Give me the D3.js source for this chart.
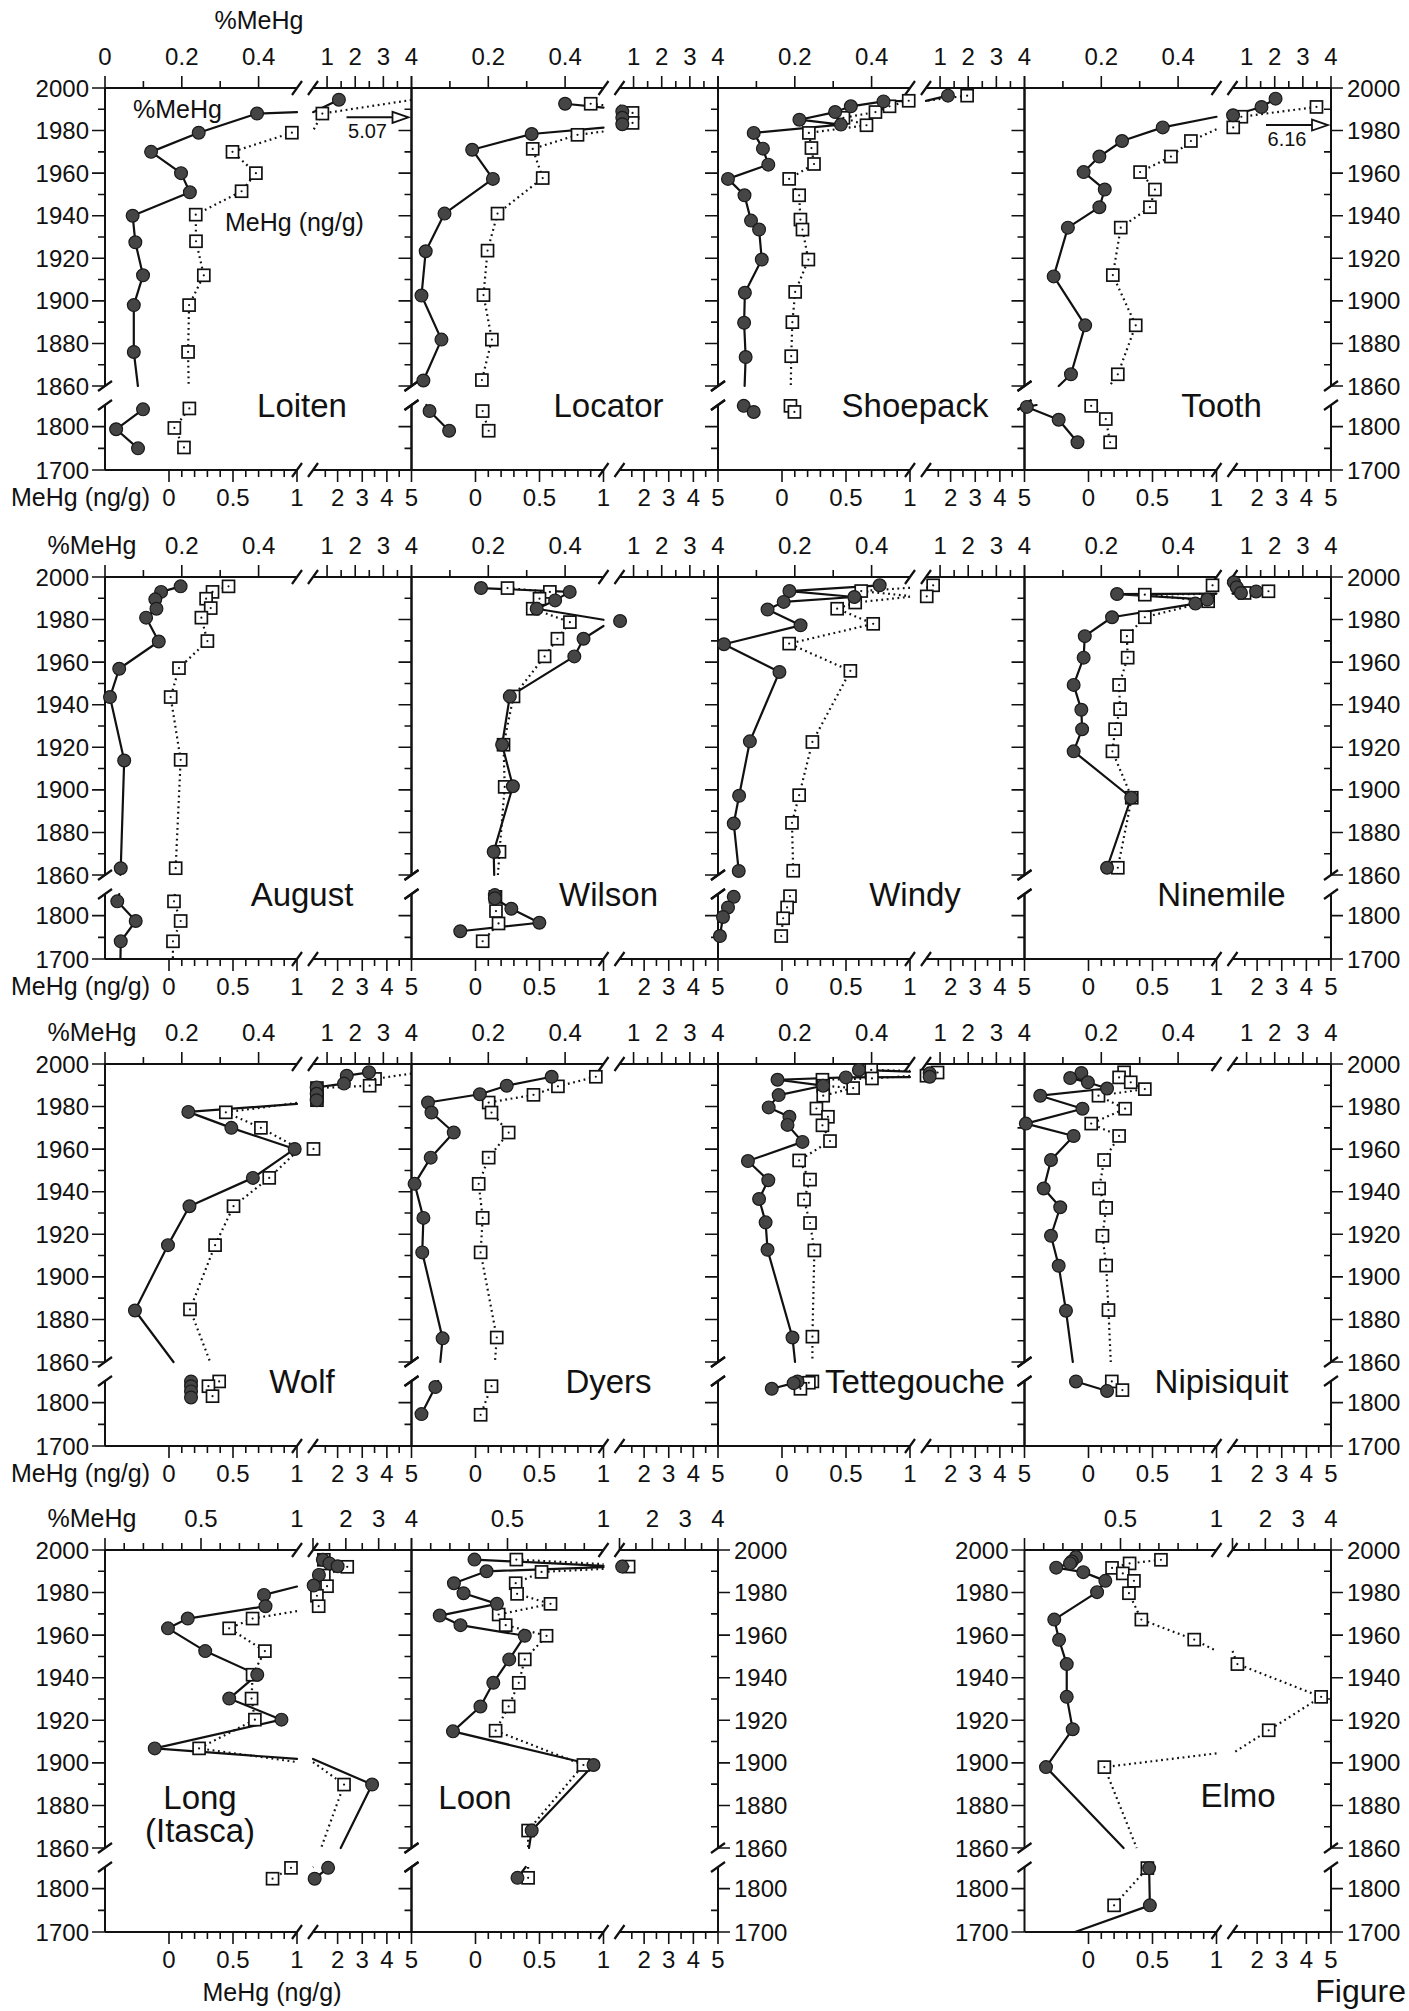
<!DOCTYPE html>
<html>
<head>
<meta charset="utf-8">
<script src="https://cdn.jsdelivr.net/npm/d3@7"></script>
<style>
  body { margin: 0; background: #fff; }
  svg { display: block; }
  text { font-family: "Liberation Sans", Arial, Helvetica, sans-serif; fill: #111; }
</style>
</head>
<body>
<svg id="fig" width="1409" height="2011"></svg>
<script>
// Sediment-core profiles: [year, value]. "Pct" = %MeHg (top axis), "Ng" = MeHg ng/g (bottom axis).
const loitenPct = [[1994.5,1.42],[1988,0.396],[1979,0.244],[1970,0.12],[1960,0.198],[1951,0.221],[1940,0.072],[1927.5,0.079],[1912,0.099],[1898,0.075],[1876,0.075],[1840,0.099],[1794,0.029],[1750,0.086]];
const loitenNg = [[1994.5,5.07],[1988,1.38],[1979,0.96],[1970,0.496],[1960,0.679],[1951.5,0.567],[1940.5,0.209],[1928,0.211],[1912,0.272],[1898,0.157],[1876,0.149],[1842,0.159],[1797,0.042],[1752,0.117]];

const locatorPct = [[1992.6,0.40],[1989,0.6],[1986,0.6],[1983,0.6],[1978.4,0.313],[1971,0.158],[1957.3,0.212],[1941,0.086],[1923.3,0.037],[1902.5,0.026],[1881.8,0.078],[1862.6,0.031],[1836,0.047],[1790.6,0.098]];
const locatorNg = [[1992.6,0.9],[1988.3,1.53],[1983.6,1.53],[1978,0.797],[1971.4,0.447],[1957.7,0.525],[1941,0.172],[1923.6,0.094],[1902.7,0.0625],[1881.8,0.128],[1862.8,0.05],[1836,0.056],[1790.6,0.103]];

const shoepackPct = [[1996.4,1.28],[1993.7,0.431],[1991.4,0.346],[1988.7,0.305],[1985.1,0.212],[1982.8,0.32],[1978.9,0.093],[1971.5,0.117],[1964,0.131],[1957.3,0.026],[1949.6,0.069],[1937.7,0.086],[1933.5,0.107],[1919.4,0.114],[1903.8,0.07],[1889.7,0.068],[1873.6,0.072],[1848,0.067],[1834,0.093]];
const shoepackNg = [[1996.4,2.67],[1994,0.99],[1991.4,0.84],[1988.7,0.73],[1986,0.48],[1982.5,0.66],[1978.9,0.21],[1971.8,0.23],[1964.3,0.25],[1957.3,0.056],[1949.6,0.134],[1938.2,0.144],[1933.5,0.16],[1919.4,0.206],[1904.2,0.103],[1890,0.081],[1874,0.072],[1848,0.066],[1834,0.097]];

const toothPct = [[1995,2.03],[1991.1,1.53],[1987.2,0.52],[1981.5,0.36],[1975.1,0.254],[1967.8,0.195],[1960.5,0.154],[1952.3,0.209],[1944,0.195],[1934.4,0.113],[1911.5,0.076],[1888.5,0.158],[1865.5,0.121],[1845.6,0.006],[1816,0.089],[1764,0.138]];
const toothNg = [[1991.1,4.41],[1986.5,1.36],[1981.5,1.03],[1975.1,0.8],[1967.8,0.644],[1960.5,0.403],[1952.3,0.519],[1944,0.48],[1934.4,0.252],[1912.1,0.19],[1888.5,0.369],[1865.5,0.229],[1848,0.021],[1817.6,0.135],[1764,0.169]];

const augustPct = [[1995.6,0.197],[1993,0.146],[1989.5,0.131],[1985.1,0.134],[1980.9,0.107],[1969.7,0.14],[1956.9,0.037],[1943.6,0.013],[1913.8,0.05],[1863.2,0.041],[1833,0.032],[1787.7,0.08],[1740.8,0.041],[1690,0.04]];
const augustNg = [[1995.6,0.465],[1993,0.34],[1989.8,0.29],[1985.4,0.326],[1980.9,0.253],[1969.9,0.3],[1957.2,0.078],[1943.6,0.013],[1914.1,0.091],[1863.2,0.052],[1833,0.039],[1787.7,0.091],[1740.8,0.031],[1690,0.03]];

const wilsonPct = [[1994.8,0.181],[1993,0.412],[1989,0.374],[1985.1,0.326],[1979.3,0.52],[1971,0.448],[1962.7,0.424],[1943.9,0.256],[1921.2,0.236],[1901.7,0.264],[1870.9,0.214],[1847.5,0.217],[1840,0.217],[1816,0.26],[1783.6,0.333],[1764,0.127]];
const wilsonNg = [[1994.8,0.25],[1993,0.581],[1989.8,0.5],[1985.1,0.447],[1978.8,0.7375],[1971,0.64],[1962.7,0.54],[1943.9,0.297],[1921.2,0.219],[1901.4,0.228],[1870.9,0.1875],[1843.4,0.156],[1810.6,0.16],[1782,0.18],[1741,0.056]];

const windyPct = [[1996.1,0.421],[1993.4,0.186],[1990.6,0.355],[1988.3,0.171],[1984.7,0.129],[1977.3,0.215],[1968.4,0.0155],[1955.4,0.16],[1922.8,0.083],[1897.2,0.055],[1884.2,0.041],[1861.9,0.054],[1843.4,0.041],[1819,0.026],[1797,0.013],[1753,0.005]];
const windyNg = [[1996.1,1.29],[1993.4,0.619],[1990.9,1.03],[1988,0.572],[1985.1,0.431],[1978,0.7125],[1968.7,0.056],[1955.9,0.534],[1922.5,0.2375],[1897.5,0.134],[1884.5,0.078],[1862,0.0875],[1845,0.0625],[1819,0.04],[1794,0.009],[1753,-0.006]];

const ninemilePct = [[1997.5,0.55],[1995.2,0.65],[1993.2,1.34],[1992.5,0.8],[1992,0.241],[1989.4,0.476],[1987.5,0.445],[1981.1,0.228],[1972.2,0.157],[1962.1,0.154],[1949.3,0.128],[1937.6,0.148],[1928.5,0.15],[1918.1,0.128],[1896.3,0.278],[1863.4,0.215]];
const ninemileNg = [[1996.1,0.969],[1993.3,2.46],[1992.5,1.49],[1991.7,0.44],[1988.6,0.935],[1981.1,0.44],[1972.2,0.3],[1962.1,0.306],[1949.3,0.239],[1937.9,0.247],[1928.5,0.208],[1918.1,0.187],[1896.3,0.338],[1863.4,0.229]];

const wolfPct = [[1996.1,2.49],[1994.5,1.7],[1990.8,1.6],[1989,0.63],[1986,0.63],[1983,0.63],[1977.5,0.217],[1970,0.329],[1960.1,0.494],[1946.5,0.385],[1933.2,0.22],[1914.9,0.164],[1884.2,0.078],[1849,0.224],[1838,0.224],[1826,0.224],[1812,0.224]];
const wolfNg = [[1996.5,5.6],[1993,3.52],[1989.8,3.3],[1988.7,1.16],[1985,1.16],[1983,1.16],[1977.3,0.444],[1970,0.718],[1960.1,1.02],[1946.5,0.783],[1933.2,0.504],[1914.9,0.36],[1884.7,0.164],[1849,0.392],[1838,0.308],[1815,0.34]];

const dyersPct = [[1994,0.365],[1989.8,0.248],[1985.8,0.178],[1981.9,0.043],[1977.2,0.052],[1967.8,0.11],[1956,0.05],[1943.7,0.008],[1927.7,0.031],[1911.5,0.028],[1871.1,0.081],[1836,0.062],[1773.6,0.026]];
const dyersNg = [[1994,0.94],[1989.5,0.644],[1985.5,0.453],[1981.9,0.103],[1977.2,0.125],[1967.8,0.259],[1956,0.103],[1943.7,0.025],[1927.7,0.056],[1911.5,0.04],[1871.5,0.166],[1838,0.125],[1772,0.04]];

const tettegouchePct = [[1997.2,0.367],[1995.6,0.63],[1994,0.63],[1993.7,0.333],[1992.6,0.155],[1989.8,0.274],[1985.4,0.158],[1979.6,0.132],[1975.2,0.186],[1971.4,0.181],[1963.4,0.22],[1954.4,0.078],[1945.4,0.131],[1936.6,0.107],[1925.6,0.124],[1912.7,0.129],[1871.5,0.194],[1849,0.207],[1845,0.197],[1832,0.14]];
const tettegoucheNg = [[1997.2,0.697],[1996,1.47],[1994.5,1.02],[1993.2,0.703],[1992.6,0.316],[1989.8,0.322],[1988.7,0.556],[1985.1,0.322],[1979.1,0.269],[1975.2,0.359],[1971.2,0.316],[1963.8,0.375],[1954.7,0.134],[1945.7,0.219],[1936.3,0.172],[1925.3,0.219],[1912.4,0.253],[1871.9,0.2375],[1849,0.2375],[1846,0.21],[1832,0.144]];

const nipisiquitPct = [[1995.8,0.148],[1993.4,0.119],[1991.4,0.165],[1988.5,0.215],[1985.1,0.041],[1979,0.151],[1972,0.0035],[1966.2,0.128],[1954.9,0.069],[1941.5,0.05],[1932.7,0.093],[1919.3,0.069],[1905.2,0.089],[1884.1,0.108],[1849,0.134],[1827,0.215]];
const nipisiquitNg = [[1996.1,0.278],[1993.7,0.239],[1991.4,0.33],[1988.2,0.44],[1985.1,0.078],[1979,0.286],[1972,0.021],[1966.2,0.239],[1954.9,0.122],[1941.5,0.083],[1932.4,0.138],[1919.3,0.109],[1905.3,0.138],[1884.4,0.156],[1849,0.182],[1829,0.265]];

const longPct = [[1995.4,1.3],[1993.7,1.5],[1992.4,1.75],[1988.3,1.18],[1983.3,1.02],[1978.9,0.828],[1973.6,0.836],[1967.8,0.431],[1963.2,0.328],[1952.5,0.522],[1941.4,0.793],[1930.2,0.647],[1920.3,0.919],[1906.8,0.259],[1889.8,2.8],[1848,1.46],[1823,1.05]];
const longNg = [[1995.4,1.44],[1992.1,2.39],[1988,1.44],[1983,1.57],[1978.5,1.16],[1973.6,1.23],[1967.8,0.653],[1963.2,0.47],[1952.5,0.749],[1941.4,0.653],[1930.2,0.645],[1920.3,0.671],[1906.8,0.235],[1889.8,2.26],[1848,0.953],[1823,0.809]];

const loonPct = [[1995.5,0.328],[1992.2,1.08],[1990,0.391],[1984.4,0.221],[1979.7,0.271],[1974.7,0.445],[1969.2,0.147],[1964.7,0.255],[1959.7,0.59],[1948.6,0.509],[1937.6,0.426],[1926.5,0.359],[1914.8,0.216],[1899,0.948],[1868.2,0.626],[1825,0.552]];
const loonNg = [[1995.5,0.319],[1992.2,1.37],[1989.7,0.516],[1984.4,0.314],[1979.4,0.325],[1974.7,0.586],[1969.7,0.181],[1964.7,0.236],[1959.7,0.555],[1948.6,0.385],[1937.6,0.338],[1926.5,0.259],[1915.1,0.157],[1899,0.843],[1868.2,0.411],[1825,0.411]];

const elmoPct = [[1996.7,0.268],[1994.6,0.246],[1993.7,0.237],[1991.7,0.165],[1989.6,0.306],[1985.5,0.421],[1980.2,0.378],[1967.3,0.155],[1957.8,0.18],[1946.4,0.22],[1931,0.22],[1915.8,0.251],[1898,0.112],[1847.5,0.649],[1761.5,0.653],[1690,0.2]];
const elmoNg = [[1995.4,0.566],[1993.7,0.321],[1991.6,0.184],[1989,0.268],[1985.5,0.355],[1979.7,0.316],[1967.3,0.413],[1957.9,0.826],[1946.4,1.2],[1931,4.6],[1915.3,2.47],[1898,0.124],[1847.5,0.46],[1761.5,0.2]];

// Lake names and their profile pairs, in reading order.
const lakeNames = ["Loiten","Locator","Shoepack","Tooth","August","Wilson","Windy","Ninemile",
                   "Wolf","Dyers","Tettegouche","Nipisiquit","Long (Itasca)","Loon","Elmo"];
const lakeProfiles = [[loitenPct,loitenNg],[locatorPct,locatorNg],[shoepackPct,shoepackNg],[toothPct,toothNg],
  [augustPct,augustNg],[wilsonPct,wilsonNg],[windyPct,windyNg],[ninemilePct,ninemileNg],
  [wolfPct,wolfNg],[dyersPct,dyersNg],[tettegouchePct,tettegoucheNg],[nipisiquitPct,nipisiquitNg],
  [longPct,longNg],[loonPct,loonNg],[elmoPct,elmoNg]];

// Values beyond the MeHg axis, flagged with an arrow.
const offscaleLakes = ["Loiten","Tooth"];
const offscaleYears = [1986.2, 1982.6];
const offscaleValues = [5.07, 6.16];

// Axis ticks and labels.
const yearMajorUpper = [2000,1980,1960,1940,1920,1900,1880,1860];
const yearMinorUpper = [1990,1970,1950,1930,1910,1890,1870];
const yearMajorLower = [1800,1700];
const yearMinorLower = [1750];
const pctLabels = [0.2,0.4,1,2,3,4];
const pctLabelsWide = [0.5,1,2,3,4];
const ngLabels = [0,0.5,1,2,3,4,5];

// ---------- layout ----------
const W = 306.5, H = 382, SL = 192, SR = 208;
const colX = [105, 411.5, 718, 1024.5];
const rowY = [88, 577, 1064, 1550];
const slots = [[0,0],[0,1],[0,2],[0,3],[1,0],[1,1],[1,2],[1,3],[2,0],[2,1],[2,2],[2,3],[3,0],[3,1],[3,3]];
const namePos = [null,null,null,null,null,null,null,null,null,null,null,null,[95,259],[63.5,259],[213.5,257]];

const svg = d3.select("#fig");
const yUp = d3.scaleLinear().domain([1860, 2000]).range([298, 0]);
const yLo = d3.scaleLinear().domain([1700, 1850]).range([H, 317]);

function xScales(kind, wide) {
  if (kind === "pct") {
    const s = wide ? 1 : 0.5;
    return { split: s,
      left: d3.scaleLinear().domain([0, s]).range([0, SL]),
      right: d3.scaleLinear().domain([s, 4]).range([SR, W]) };
  }
  return { split: 1,
    left: d3.scaleLinear().domain([-0.5, 1]).range([0, SL]),
    right: d3.scaleLinear().domain([1, 5]).range([SR, W]) };
}

// Liang-Barsky clip of a data-space segment to a rectangular data region.
function clip(p, q, x0, x1, y0, y1) {
  let t0 = 0, t1 = 1;
  const dx = q[1] - p[1], dy = q[0] - p[0];
  const c = [[-dx, p[1] - x0], [dx, x1 - p[1]], [-dy, p[0] - y0], [dy, y1 - p[0]]];
  for (const [pp, qq] of c) {
    if (pp === 0) { if (qq < 0) return null; continue; }
    const r = qq / pp;
    if (pp < 0) { if (r > t1) return null; if (r > t0) t0 = r; }
    else { if (r < t0) return null; if (r < t1) t1 = r; }
  }
  return t0 < t1 ? [t0, t1] : null;
}

function profilePath(data, xs) {
  let d = "", last = null;
  for (let i = 0; i < data.length - 1; i++) {
    const p = data[i], q = data[i + 1];
    for (const sy of [yUp, yLo]) for (const sx of [xs.left, xs.right]) {
      const [xa, xb] = sx.domain(), [ya, yb] = sy.domain();
      const t = clip(p, q, xa, xb, ya, yb);
      if (!t) continue;
      const at = k => [p[0] + (q[0] - p[0]) * k, p[1] + (q[1] - p[1]) * k];
      const a = at(t[0]), b = at(t[1]);
      const A = [sx(a[1]), sy(a[0])], B = [sx(b[1]), sy(b[0])];
      if (last && Math.abs(last[0] - A[0]) < 0.01 && Math.abs(last[1] - A[1]) < 0.01) d += `L${B[0]},${B[1]}`;
      else d += `M${A[0]},${A[1]}L${B[0]},${B[1]}`;
      last = B;
    }
  }
  return d;
}

function markerPos(pt, xs) {
  const [yr, v] = pt;
  let y;
  if (yr >= 1860 && yr <= 2000) y = yUp(yr);
  else if (yr >= 1700 && yr <= 1850) y = yLo(yr);
  else return null;
  const sx = v <= xs.split ? xs.left : xs.right;
  const [a, b] = sx.domain();
  if (v < a || v > b) return null;
  return [sx(v), y];
}

const fmtAxis = d3.format("~g");

lakeNames.forEach((name, i) => {
  const [row, col] = slots[i];
  const wide = row === 3;
  const g = svg.append("g").attr("transform", `translate(${colX[col]},${rowY[row]})`);
  const xt = xScales("pct", wide), xb = xScales("ng", wide);
  const lastInRow = col === 3 || (row === 3 && col === 1);
  const leftLabels = col === 0 || (row === 3 && col === 3);

  // frame with axis breaks
  const frame = `M0,0H${SL}M${SR},0H${W}M0,${H}H${SL}M${SR},${H}H${W}` +
                `M0,0V298M0,317V${H}M${W},0V298M${W},317V${H}`;
  g.append("path").attr("d", frame).attr("fill", "none").attr("stroke", "#111").attr("stroke-width", 2);
  const brk = [];
  [[SL,0],[SR,0],[SL,H],[SR,H]].forEach(([x,y]) => brk.push(`M${x-5},${y+7}L${x+5},${y-7}`));
  [[0,298],[0,317],[W,298],[W,317]].forEach(([x,y]) => brk.push(`M${x-7},${y+5}L${x+7},${y-5}`));
  g.append("path").attr("d", brk.join("")).attr("fill", "none").attr("stroke", "#111").attr("stroke-width", 2.2);

  // top (%MeHg) ticks
  let tk = "";
  const topLeftTicks = wide ? d3.range(0, 10).map(k => k / 10) : d3.range(0, 5).map(k => k / 10);
  topLeftTicks.forEach((v, k) => {
    const major = wide ? (k % 5 === 0) : (k % 2 === 0);
    tk += `M${xt.left(v)},0V${major ? -12 : -7}`;
  });
  [1, 1.5, 2, 2.5, 3, 3.5, 4].forEach(v => { tk += `M${xt.right(v)},0V${Number.isInteger(v) ? -12 : -7}`; });
  // bottom (MeHg) ticks
  d3.range(0, 11).forEach(k => { tk += `M${xb.left(k / 10)},${H}V${H + (k % 5 === 0 ? 12 : 7)}`; });
  [1.5, 2, 2.5, 3, 3.5, 4, 4.5, 5].forEach(v => { tk += `M${xb.right(v)},${H}V${H + (Number.isInteger(v) ? 12 : 7)}`; });
  // year ticks on the left edge
  yearMajorUpper.forEach(y => { tk += `M0,${yUp(y)}H-13`; });
  yearMinorUpper.forEach(y => { tk += `M0,${yUp(y)}H-7`; });
  yearMajorLower.forEach(y => { tk += `M0,${yLo(y)}H-13`; });
  yearMinorLower.forEach(y => { tk += `M0,${yLo(y)}H-7`; });
  if (lastInRow) {
    yearMajorUpper.forEach(y => { tk += `M${W},${yUp(y)}H${W + 12}`; });
    yearMinorUpper.forEach(y => { tk += `M${W},${yUp(y)}H${W - 7}`; });
    yearMajorLower.forEach(y => { tk += `M${W},${yLo(y)}H${W + 12}`; });
    yearMinorLower.forEach(y => { tk += `M${W},${yLo(y)}H${W - 7}`; });
  }
  g.append("path").attr("d", tk).attr("fill", "none").attr("stroke", "#111").attr("stroke-width", 1.6);

  // tick labels
  const lab = g.append("g").attr("font-size", 24);
  (wide ? pctLabelsWide : pctLabels).forEach(v => {
    const x = v <= xt.split ? xt.left(v) : xt.right(v);
    lab.append("text").attr("x", x).attr("y", -23).attr("text-anchor", "middle")
       .text(v < 1 ? d3.format(".1f")(v) : fmtAxis(v));
  });
  ngLabels.forEach(v => {
    const x = v <= xb.split ? xb.left(v) : xb.right(v);
    lab.append("text").attr("x", x).attr("y", H + 36).attr("text-anchor", "middle").text(fmtAxis(v));
  });
  const yearLabel = (x, anchor) => {
    yearMajorUpper.forEach(y => lab.append("text").attr("x", x).attr("y", yUp(y)).attr("dy", "0.36em").attr("text-anchor", anchor).text(y));
    yearMajorLower.forEach(y => lab.append("text").attr("x", x).attr("y", yLo(y)).attr("dy", "0.36em").attr("text-anchor", anchor).text(y));
  };
  if (leftLabels) yearLabel(-16, "end");
  if (lastInRow) yearLabel(W + 16, "start");
  if (row === 0 && col === 0) lab.append("text").attr("x", 0).attr("y", -23).attr("text-anchor", "middle").text("0");
  if (col === 0 && row > 0) lab.append("text").attr("x", -13).attr("y", -23).attr("text-anchor", "middle").attr("font-size", 25).text("%MeHg");
  if (col === 0 && row < 3) lab.append("text").attr("x", 45).attr("y", H + 36).attr("text-anchor", "end").attr("font-size", 25).text("MeHg (ng/g)");

  // profiles
  const [pct, ng] = lakeProfiles[i];
  g.append("path").attr("d", profilePath(ng, xb)).attr("fill", "none").attr("stroke", "#111")
   .attr("stroke-width", 2.2).attr("stroke-dasharray", "1.8 3.6");
  g.append("path").attr("d", profilePath(pct, xt)).attr("fill", "none").attr("stroke", "#111")
   .attr("stroke-width", 2.2).attr("stroke-linejoin", "round").attr("stroke-linecap", "round");

  ng.forEach(pt => {
    const p = markerPos(pt, xb);
    if (!p) return;
    g.append("rect").attr("x", p[0] - 6).attr("y", p[1] - 6).attr("width", 12).attr("height", 12)
     .attr("fill", "#fff").attr("stroke", "#111").attr("stroke-width", 1.7);
    g.append("circle").attr("cx", p[0]).attr("cy", p[1]).attr("r", 1.1).attr("fill", "#111");
  });
  pct.forEach(pt => {
    const p = markerPos(pt, xt);
    if (!p) return;
    g.append("circle").attr("cx", p[0]).attr("cy", p[1]).attr("r", 6.4)
     .attr("fill", "#454545").attr("stroke", "#1a1a1a").attr("stroke-width", 1.2);
  });

  // off-scale arrows
  offscaleLakes.forEach((lk, k) => {
    if (lk !== name) return;
    const y = yUp(offscaleYears[k]), tip = W - 3;
    g.append("path").attr("d", `M${tip - 62},${y}H${tip - 15}`).attr("stroke", "#111").attr("stroke-width", 2);
    g.append("path").attr("d", `M${tip},${y}L${tip - 16},${y - 5.5}L${tip - 16},${y + 5.5}Z`)
     .attr("fill", "#fff").attr("stroke", "#111").attr("stroke-width", 1.8);
    g.append("text").attr("x", tip - 41).attr("y", y + 21).attr("text-anchor", "middle")
     .attr("font-size", 20).text(d3.format(".2f")(offscaleValues[k]));
  });

  // lake name
  if (namePos[i]) {
    const [nx, ny] = namePos[i];
    if (name === "Long (Itasca)") {
      g.append("text").attr("x", nx).attr("y", ny).attr("text-anchor", "middle").attr("font-size", 33).text("Long");
      g.append("text").attr("x", nx).attr("y", ny + 33).attr("text-anchor", "middle").attr("font-size", 33).text("(Itasca)");
    } else {
      g.append("text").attr("x", nx).attr("y", ny).attr("text-anchor", "middle").attr("font-size", 33).text(name);
    }
  } else {
    g.append("text").attr("x", 197).attr("y", 329).attr("text-anchor", "middle").attr("font-size", 33).text(name);
  }

  // series key inside the first panel
  if (i === 0) {
    g.append("text").attr("x", 28).attr("y", 30).attr("font-size", 25).text("%MeHg");
    g.append("text").attr("x", 120).attr("y", 143).attr("font-size", 25).text("MeHg (ng/g)");
  }
});

// figure-level labels
svg.append("text").attr("x", 259).attr("y", 29).attr("text-anchor", "middle").attr("font-size", 25).text("%MeHg");
svg.append("text").attr("x", 272).attr("y", 2001).attr("text-anchor", "middle").attr("font-size", 25).text("MeHg (ng/g)");
svg.append("text").attr("x", 1406).attr("y", 2002).attr("text-anchor", "end").attr("font-size", 32).text("Figure");
</script>
</body>
</html>
